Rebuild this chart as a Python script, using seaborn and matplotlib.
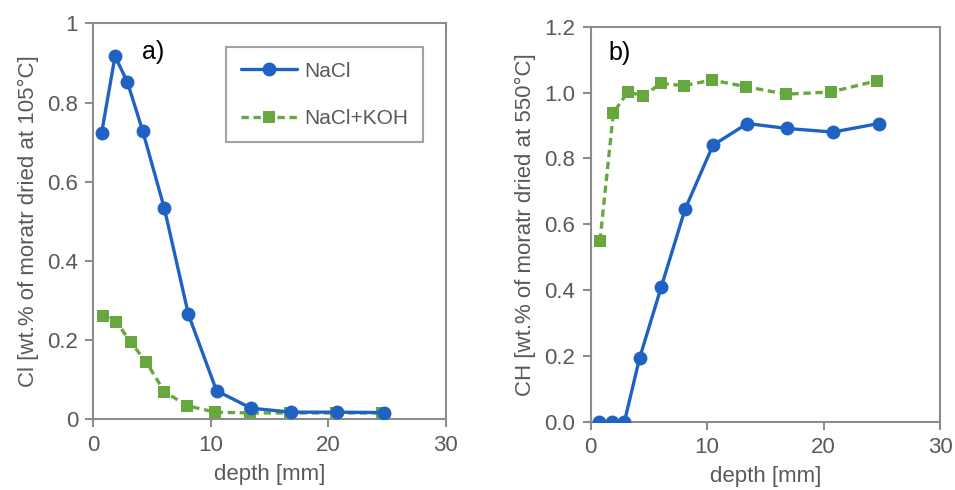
import matplotlib
matplotlib.use("Agg")
import matplotlib.pyplot as plt
import seaborn as sns
import pandas as pd

# depths [mm]
depth_nacl = [0.7, 1.85, 2.9, 4.2, 6.05, 8.1, 10.5, 13.45, 16.85, 20.8, 24.75]
depth_koh = [0.8, 1.95, 3.2, 4.5, 6.05, 8.0, 10.4, 13.35, 16.75, 20.65, 24.6]

# panel a) Cl
cl_nacl = [0.722, 0.917, 0.852, 0.729, 0.533, 0.265, 0.072, 0.028, 0.018, 0.018, 0.017]
cl_koh = [0.262, 0.247, 0.194, 0.145, 0.070, 0.034, 0.018, 0.016, 0.016, 0.016, 0.016]

# panel b) CH
ch_nacl = [0.0, 0.0, 0.0, 0.193, 0.408, 0.645, 0.840, 0.906, 0.891, 0.880, 0.906]
ch_koh = [0.550, 0.939, 1.002, 0.990, 1.028, 1.021, 1.038, 1.018, 0.995, 1.002, 1.036]

series_names = ["NaCl", "NaCl+KOH"]
a_yticks = [0, 0.2, 0.4, 0.6, 0.8, 1.0]
a_yticklabels = ["0", "0.2", "0.4", "0.6", "0.8", "1"]
b_yticks = [0.0, 0.2, 0.4, 0.6, 0.8, 1.0, 1.2]
b_yticklabels = ["0.0", "0.2", "0.4", "0.6", "0.8", "1.0", "1.2"]
xticks = [0, 10, 20, 30]

sns.set_theme(style="white")
plt.rcParams["font.family"] = ["Liberation Sans", "DejaVu Sans"]

BLUE = "#1f62c4"
GREEN = "#66a83d"
SPINE = "#8c8c8c"
TXT = "#595959"
FS = 16

fig = plt.figure(figsize=(9.55, 4.9), dpi=100)
axa = fig.add_axes([0.0977, 0.1443, 0.3688, 0.808])
axb = fig.add_axes([0.6185, 0.1394, 0.3658, 0.806])


def draw(ax, yn, yk):
    dfn = pd.DataFrame({"depth": depth_nacl, "val": yn})
    dfk = pd.DataFrame({"depth": depth_koh, "val": yk})
    sns.lineplot(data=dfn, x="depth", y="val", ax=ax, color=BLUE, lw=2.4,
                 marker="o", markersize=10, markeredgewidth=0,
                 label=series_names[0], zorder=3)
    sns.lineplot(data=dfk, x="depth", y="val", ax=ax, color=GREEN, lw=2.4,
                 marker="s", markersize=9, markeredgewidth=0,
                 dashes=(2.2, 1.4), label=series_names[1], zorder=2)
    ax.set_xlim(0, 30)
    ax.set_xticks(xticks)
    ax.set_xticklabels([str(t) for t in xticks])
    for s in ax.spines.values():
        s.set_color(SPINE)
        s.set_linewidth(1.5)
    ax.tick_params(axis="both", which="major", direction="out", length=6,
                   width=1.5, color=SPINE, labelcolor=TXT, labelsize=FS,
                   bottom=True, left=True, top=False, right=False, pad=5)
    ax.set_xlabel("depth [mm]", fontsize=FS, color=TXT, labelpad=6)
    ax.set_facecolor("white")


draw(axa, cl_nacl, cl_koh)
axa.set_ylim(0, 1)
axa.set_yticks(a_yticks)
axa.set_yticklabels(a_yticklabels)
axa.set_ylabel("Cl [wt.% of moratr dried at 105°C]", fontsize=FS, color=TXT, labelpad=6)
axa.text(0.138, 0.927, "a)", transform=axa.transAxes, fontsize=18, color="black",
         ha="left", va="center")
leg = axa.legend(loc="upper left", bbox_to_anchor=(0.378, 0.94), fontsize=15,
                 frameon=True, fancybox=False, handlelength=2.7,
                 borderpad=0.7, labelspacing=1.35, handletextpad=0.35,
                 borderaxespad=0.0)
leg.get_frame().set_edgecolor(SPINE)
leg.get_frame().set_linewidth(1.5)
for t in leg.get_texts():
    t.set_color(TXT)

draw(axb, ch_nacl, ch_koh)
axb.set_ylim(0, 1.2)
axb.set_yticks(b_yticks)
axb.set_yticklabels(b_yticklabels)
axb.set_ylabel("CH [wt.% of moratr dried at 550°C]", fontsize=FS, color=TXT, labelpad=6)
axb.text(0.05, 0.933, "b)", transform=axb.transAxes, fontsize=18, color="black",
         ha="left", va="center")
axb.get_legend().remove()

fig.savefig("out.png", dpi=100, facecolor="white")
